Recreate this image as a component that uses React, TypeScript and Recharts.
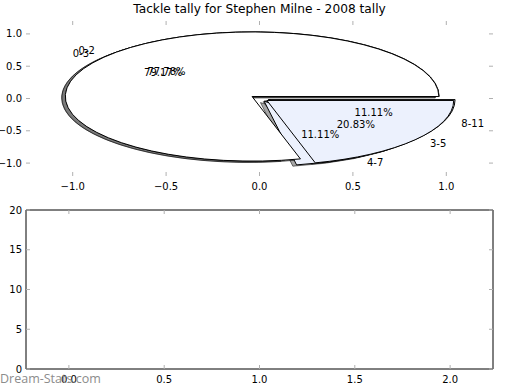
import { Cell, Pie, PieChart, Scatter, ScatterChart, XAxis, YAxis } from "recharts";

// two tallies drawn over each other, like the original page does
const tallyA = [
  { name: "0-2", value: 7 },
  { name: "4-7", value: 1 },
  { name: "8-11", value: 1 },
];
const tallyB = [
  { name: "0-3", value: 19 },
  { name: "3-5", value: 5 },
];
const colorsA = ["#ffffff", "#ecf1fd", "#ecf1fd"];
const colorsB = ["#ffffff", "#ecf1fd"];

const pieTicks = [-1, -0.5, 0, 0.5, 1];
const barXTicks = [0, 0.5, 1, 1.5, 2];
const barYTicks = [0, 5, 10, 15, 20];

const FONT = "DejaVu Sans, sans-serif";
const TICK = "#b0b0b0";
const RAD = Math.PI / 180;

// top plot area (pixels) and limits
const TOP = { left: 26, top: 21, width: 467, height: 155 };
const PIE_X = [-1.25, 1.25];
const PIE_Y = [-1.2, 1.2];
const RX = TOP.width / (PIE_X[1] - PIE_X[0]);
const RY = TOP.height / (PIE_Y[1] - PIE_Y[0]);
const CX = TOP.left - PIE_X[0] * RX;
const CY = TOP.top + PIE_Y[1] * RY;
const EXPLODE = 0.05;

function origin(p: any) {
  const mid = ((p.startAngle + p.endAngle) / 2) * RAD;
  return {
    mid,
    ox: p.cx + EXPLODE * RX * Math.cos(mid),
    oy: p.cy - EXPLODE * RY * Math.sin(mid),
  };
}

function wedge(p: any, dx: number, dy: number) {
  const { ox, oy } = origin(p);
  const x0 = ox + dx;
  const y0 = oy + dy;
  const pt = (a: number) => `${x0 + RX * Math.cos(a * RAD)},${y0 - RY * Math.sin(a * RAD)}`;
  const large = p.endAngle - p.startAngle > 180 ? 1 : 0;
  return `M${x0},${y0} L${pt(p.startAngle)} A${RX},${RY} 0 ${large} 0 ${pt(p.endAngle)} Z`;
}

const shadowShape = (p: any) => (
  <path
    d={wedge(p, -0.02 * RX, 0.02 * RY)}
    fill="#4d4d4d"
    fillOpacity={0.5}
    stroke="#000"
    strokeOpacity={0.5}
    strokeWidth={1}
  />
);

const wedgeShape = (p: any) => (
  <path d={wedge(p, 0, 0)} fill={p.fill} stroke="#000" strokeWidth={1} />
);

const noShape = () => <g />;

const sliceLabel = (p: any) => {
  const { mid, ox, oy } = origin(p);
  const c = Math.cos(mid);
  const s = Math.sin(mid);
  const nx = ox + 1.1 * RX * c;
  const ny = oy - 1.1 * RY * s;
  const tx = ox + 0.6 * RX * c;
  const ty = oy - 0.6 * RY * s;
  return (
    <g fontFamily={FONT} fontSize={10} fill="#000">
      <text x={nx} y={ny} textAnchor={c > 0 ? "start" : "end"} dominantBaseline="central">
        {p.name}
      </text>
      <text x={tx} y={ty} textAnchor="middle" dominantBaseline="central">
        {(p.percent * 100).toFixed(2) + "%"}
      </text>
    </g>
  );
};

const fmt = (v: number) => v.toFixed(1).replace("-", "\u2212");

const BottomTick = ({ x, y, payload }: any) => (
  <g>
    <line x1={x} x2={x} y1={y} y2={y - 4} stroke={TICK} />
    <text x={x} y={y + 10} textAnchor="middle" dominantBaseline="central" fontFamily={FONT} fontSize={10} fill="#000">
      {fmt(payload.value)}
    </text>
  </g>
);
const TopTick = ({ x, y }: any) => <line x1={x} x2={x} y1={y} y2={y + 4} stroke={TICK} />;
const LeftTick = ({ x, y, payload, fixed }: any) => (
  <g>
    <line x1={x} x2={x + 4} y1={y} y2={y} stroke={TICK} />
    <text x={x - 4} y={y} textAnchor="end" dominantBaseline="central" fontFamily={FONT} fontSize={10} fill="#000">
      {fixed ? fmt(payload.value) : payload.value}
    </text>
  </g>
);
const RightTick = ({ x, y }: any) => <line x1={x - 4} x2={x} y1={y} y2={y} stroke={TICK} />;

// axes get 1px of room (recharts skips axes of zero size), margins give it back
function Axes({ xDomain, yDomain, xTicks, yTicks, fixed, frame }: any) {
  const line = frame ? { stroke: "#000", strokeWidth: 1 } : false;
  return [
    <XAxis key="xb" xAxisId="b" type="number" dataKey="x" domain={xDomain} ticks={xTicks} allowDataOverflow height={1}
      tickSize={0} tickMargin={0} tickLine={false} axisLine={line} tick={<BottomTick />} interval={0} />,
    <XAxis key="xt" xAxisId="t" orientation="top" type="number" dataKey="x" domain={xDomain} ticks={xTicks} allowDataOverflow
      height={1} tickSize={0} tickMargin={0} tickLine={false} axisLine={line} tick={<TopTick />} interval={0} />,
    <YAxis key="yl" yAxisId="l" type="number" dataKey="y" domain={yDomain} ticks={yTicks} allowDataOverflow width={1}
      tickSize={0} tickMargin={0} tickLine={false} axisLine={line} tick={<LeftTick fixed={fixed} />} interval={0} />,
    <YAxis key="yr" yAxisId="r" orientation="right" type="number" dataKey="y" domain={yDomain} ticks={yTicks}
      allowDataOverflow width={1} tickSize={0} tickMargin={0} tickLine={false} axisLine={line} tick={<RightTick />} interval={0} />,
  ];
}

export default function App() {
  const pieProps = {
    dataKey: "value",
    nameKey: "name",
    cx: CX,
    cy: CY,
    outerRadius: RX,
    startAngle: 0,
    endAngle: 360,
    isAnimationActive: false,
  };
  return (
    <div style={{ position: "fixed", left: 0, top: 0, width: 520, height: 390, background: "#fff" }}>
      <div style={{ position: "absolute", left: 0, top: 0 }}>
        <ScatterChart width={520} height={200}
          margin={{ top: TOP.top - 1, left: TOP.left - 1, right: 520 - TOP.left - TOP.width - 1, bottom: 200 - TOP.top - TOP.height - 1 }}>
          {Axes({ xDomain: PIE_X, yDomain: PIE_Y, xTicks: pieTicks, yTicks: pieTicks, fixed: true, frame: false })}
          <Scatter data={[]} xAxisId="b" yAxisId="l" isAnimationActive={false} />
        </ScatterChart>
      </div>

      <div style={{ position: "absolute", left: 0, top: 0 }}>
        <PieChart width={520} height={200} margin={{ top: 0, right: 0, bottom: 0, left: 0 }}>
          <Pie data={tallyA} {...pieProps} shape={shadowShape} stroke="none" />
          <Pie data={tallyB} {...pieProps} shape={shadowShape} stroke="none" />
          <Pie data={tallyA} {...pieProps} shape={wedgeShape}>
            {tallyA.map((d, i) => <Cell key={d.name} fill={colorsA[i]} />)}
          </Pie>
          <Pie data={tallyB} {...pieProps} shape={wedgeShape}>
            {tallyB.map((d, i) => <Cell key={d.name} fill={colorsB[i]} />)}
          </Pie>
          <Pie data={tallyA} {...pieProps} shape={noShape} label={sliceLabel} labelLine={false} />
          <Pie data={tallyB} {...pieProps} shape={noShape} label={sliceLabel} labelLine={false} />
        </PieChart>
      </div>

      <div
        style={{
          position: "absolute", left: 0, top: 1, width: 519, textAlign: "center",
          fontFamily: FONT, fontSize: 12.2, color: "#000", lineHeight: "16px",
        }}
      >
        Tackle tally for Stephen Milne - 2008 tally
      </div>

      <div style={{ position: "absolute", left: 0, top: 190 }}>
        <ScatterChart width={520} height={200} margin={{ top: 19, left: 25, right: 26, bottom: 20 }}>
          {Axes({ xDomain: [-0.225, 2.225], yDomain: [0, 20], xTicks: barXTicks, yTicks: barYTicks, fixed: false, frame: true })}
          <Scatter data={[]} xAxisId="b" yAxisId="l" isAnimationActive={false} />
        </ScatterChart>
      </div>

      <div
        style={{
          position: "absolute", left: 0, top: 371, fontFamily: "Open Sans, sans-serif", fontSize: 12.5,
          color: "#8c8c8c", lineHeight: "16px",
        }}
      >
        Dream-Stats.com
      </div>
    </div>
  );
}
